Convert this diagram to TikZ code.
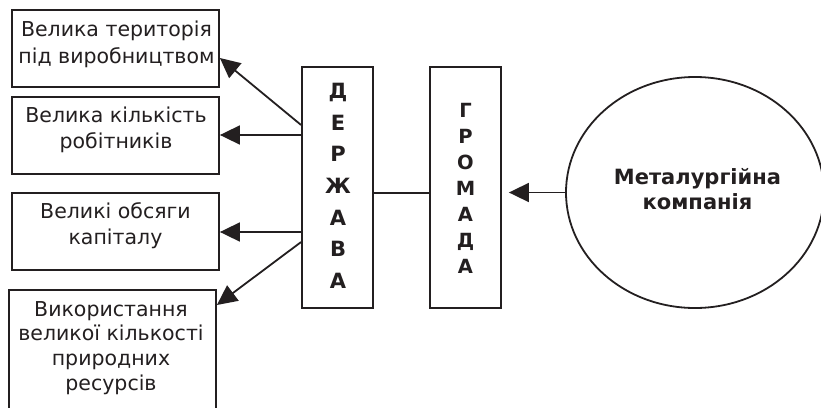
\documentclass[tikz,border=0pt]{standalone}
\usepackage{fontspec}
\setmainfont{DejaVu Sans}
\usetikzlibrary{arrows.meta,shapes.geometric}
\definecolor{ink}{HTML}{231F20}
\begin{document}
\begin{tikzpicture}[x=1pt,y=-1pt,line width=1.8pt,color=ink,
  box/.style={draw=ink,rectangle,minimum width=207pt,minimum height=77pt,inner sep=0pt},
  col/.style={draw=ink,rectangle,minimum width=71pt,minimum height=241pt,inner sep=0pt},
  txt/.style={text=ink,align=center,inner sep=0pt,font=\fontsize{20.5}{26.5}\selectfont},
  arr/.style={draw=ink,-{Triangle[length=20pt,width=19pt]}}]
\useasboundingbox (0,0) rectangle (821,407);
\clip (0,0) rectangle (821,407);
\fill[white] (0,0) rectangle (821,407);
% left boxes
\node[box] (b1) at (115.5,48.5) {};
\node[box] (b2) at (115.5,135.5) {};
\node[box] (b3) at (115.5,231.5) {};
\node[box,minimum height=140pt] (b4) at (112.5,360) {};
\node[txt] (t1) at (116.5,44.1) {Велика територія\\під виробництвом};
\node[txt] (t2) at (116,130) {Велика кількість\\робітників};
\node[txt] (t3) at (115.5,225.6) {Великі обсяги\\капіталу};
\node[txt,font=\fontsize{20.5}{24.7}\selectfont] (t4) at (111,348) {Використання\\великої кількості\\природних\\ресурсів};
% columns
\node[col] (D) at (337.5,187.5) {};
\node[col] (G) at (465.5,187.5) {};
\node[txt,font=\bfseries\fontsize{21}{31.6}\selectfont] (Dt) at (338,185.9) {Д\\Е\\Р\\Ж\\А\\В\\А};
\node[txt,font=\bfseries\fontsize{19.5}{26}\selectfont] (Gt) at (465.5,188.2) {Г\\Р\\О\\М\\А\\Д\\А};
% ellipse
\node[draw=ink,ellipse,minimum width=258pt,minimum height=231pt,inner sep=0pt] (E) at (695,192.5) {};
\node[txt,font=\bfseries\fontsize{21}{25}\selectfont] (Et) at (697.5,188.9) {Металургійна\\компанія};
% connectors
\coordinate (gtip) at ([xshift=7pt]G.east);
\draw[arr] (E.west) -- (gtip |- E.west);
\draw (D.east |- 0,193) -- (G.west |- 0,193);
\draw[arr] (D.west |- 0,125) -- (b1.east |- 0,58);
\draw[arr] (D.west |- 0,135) -- (b2.east |- 0,135);
\draw[arr] (D.west |- 0,232) -- (b3.east |- 0,232);
\draw[arr] (D.west |- 0,242) -- (b4.east |- 0,305);
\end{tikzpicture}
\end{document}
